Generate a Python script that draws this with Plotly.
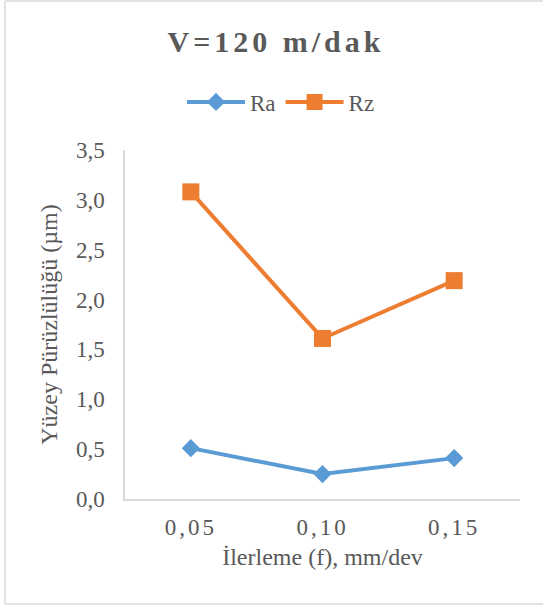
import plotly.graph_objects as go

categories = ["0,05", "0,10", "0,15"]
ra_values = [0.51, 0.25, 0.41]
rz_values = [3.08, 1.61, 2.19]
y_ticks = [0, 0.5, 1.0, 1.5, 2.0, 2.5, 3.0, 3.5]

W, H = 543, 606
ML, MR, MT, MB = 125, 23, 150, 107
PW, PH = W - ML - MR, H - MT - MB

FONT = "Liberation Serif, Times New Roman, serif"
GRAY = "#595959"

def spaced(s, px):
    return f'<span style="letter-spacing:{px}px">{s}</span>'

fig = go.Figure()
fig.add_trace(go.Scatter(
    x=categories, y=ra_values, name="Ra", mode="lines+markers",
    line=dict(color="#5B9BD5", width=4),
    marker=dict(symbol="diamond", size=14, color="#5B9BD5"),
))
fig.add_trace(go.Scatter(
    x=categories, y=rz_values, name="Rz", mode="lines+markers",
    line=dict(color="#ED7D31", width=4),
    marker=dict(symbol="square", size=17, color="#ED7D31"),
))

def px_x(p):
    return (p - ML) / PW
def px_y(p):
    return (H - MB - p) / PH

border = dict(color="#D9D9D9", width=1.5)
fig.add_shape(type="line", xref="paper", yref="paper",
              x0=px_x(5), x1=px_x(5), y0=px_y(1), y1=px_y(604), line=border)
fig.add_shape(type="line", xref="paper", yref="paper",
              x0=px_x(5), x1=px_x(545), y0=px_y(1), y1=px_y(1), line=border)
fig.add_shape(type="line", xref="paper", yref="paper",
              x0=px_x(5), x1=px_x(545), y0=px_y(604), y1=px_y(604), line=border)

fig.update_layout(
    width=W, height=H,
    margin=dict(l=ML, r=MR, t=MT, b=MB),
    paper_bgcolor="white", plot_bgcolor="white",
    separators=",.",
    font=dict(family=FONT, color=GRAY, size=23),
    title=dict(
        text="<b>" + spaced("V=120 m/dak", 4) + "</b>",
        x=276 / W, xanchor="center",
        y=1 - 41 / H, yanchor="middle", yref="container",
        font=dict(family=FONT, size=30, color=GRAY),
    ),
    legend=dict(
        orientation="h", x=px_x(281), xanchor="center",
        y=px_y(102), yanchor="middle",
        font=dict(family=FONT, size=23, color=GRAY),
        itemwidth=58, bgcolor="rgba(0,0,0,0)",
    ),
    showlegend=True,
)

fig.update_xaxes(
    type="category", range=[-0.5, 2.5],
    tickvals=categories,
    ticktext=[spaced(c, 3) for c in categories],
    showline=True, linecolor="#D9D9D9", linewidth=1.5,
    showgrid=False, zeroline=False, ticks="",
    tickfont=dict(family=FONT, size=23, color=GRAY),
    ticklabelstandoff=7,
    title=dict(text="İlerleme (f), mm/dev", standoff=9,
               font=dict(family=FONT, size=24, color=GRAY)),
    fixedrange=True,
)
fig.update_yaxes(
    range=[0, 3.5], tickvals=y_ticks, tickformat=".1f",
    showline=True, linecolor="#D9D9D9", linewidth=1.5,
    showgrid=False, zeroline=False, ticks="",
    tickfont=dict(family=FONT, size=23, color=GRAY),
    ticklabelstandoff=14,
    title=dict(text="Yüzey Pürüzlülüğü (µm)", standoff=12,
               font=dict(family=FONT, size=24, color=GRAY)),
    fixedrange=True,
)

fig.write_html("out.html")
